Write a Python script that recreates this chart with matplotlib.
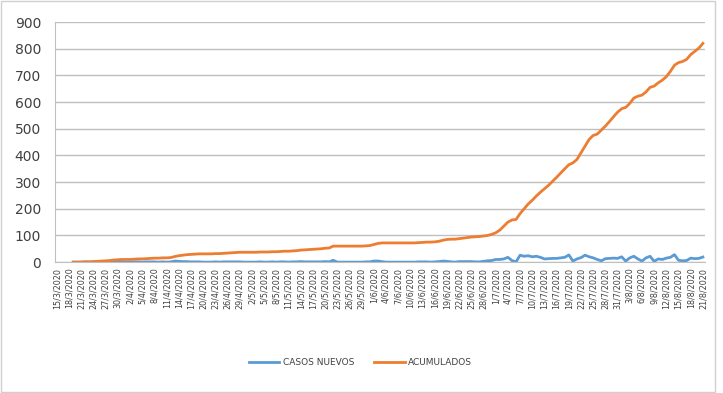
import pandas as pd
import matplotlib.pyplot as plt
from matplotlib.patches import Rectangle

# daily categories 15/3/2020 .. 21/8/2020, series start on 19/3
dates = pd.date_range("2020-03-15", "2020-08-21", freq="D")
start_offset = 4

acumulados = [
    0, 0, 0, 1, 1, 2, 3, 4, 5, 6, 8, 9, 10, 10, 10, 11, 12, 12, 13, 14,
    15, 15, 16, 16, 17, 21, 24, 26, 28, 29, 30, 31, 31, 31, 31, 32, 32, 33, 34, 35,
    36, 37, 37, 37, 37, 37, 38, 38, 38, 39, 39, 40, 41, 41, 42, 43, 45, 46, 47, 48,
    49, 50, 52, 53, 60, 60, 60, 60, 60, 60, 60, 60, 61, 62, 66, 70, 72, 72, 72, 72,
    72, 72, 72, 72, 72, 73, 74, 75, 75, 76, 78, 82, 85, 86, 86, 88, 90, 92, 94, 95,
    96, 98, 100, 104, 110, 120, 135, 150, 158, 160, 182, 200, 218, 232, 248, 262, 275, 288, 303, 318,
    334, 350, 365, 372, 385, 410, 435, 460, 475, 480, 495, 510, 527, 545, 562, 575, 580, 595, 615, 622,
    626, 638, 655, 660, 672, 682, 695, 715, 738, 748, 752, 760, 778, 790, 802, 820,
]

casos_nuevos = [
    0, 0, 0, 1, 0, 1, 1, 1, 1, 1, 2, 1, 1, 0, 0, 1, 1, 0, 1, 1,
    1, 0, 1, 0, 1, 4, 3, 2, 2, 1, 1, 1, 0, 0, 0, 1, 0, 1, 1, 1,
    1, 1, 0, 0, 0, 0, 1, 0, 0, 1, 0, 1, 1, 0, 1, 1, 2, 1, 1, 1,
    1, 1, 2, 1, 7, 0, 0, 0, 0, 0, 0, 0, 1, 1, 4, 4, 2, 0, 0, 0,
    0, 0, 0, 0, 0, 1, 1, 1, 0, 1, 2, 4, 3, 1, 0, 2, 2, 2, 2, 1,
    1, 3, 5, 6, 10, 10, 12, 18, 6, 1, 26, 22, 24, 20, 22, 18, 12, 13, 14, 14,
    16, 18, 27, 4, 12, 17, 26, 20, 16, 10, 5, 13, 14, 15, 14, 20, 4, 16, 22, 12,
    4, 16, 22, 3, 12, 10, 15, 18, 28, 7, 5, 6, 15, 13, 14, 19,
]

labels = [f"{d.day}/{d.month}/{d.year}" for d in dates]
x = list(range(start_offset, start_offset + len(acumulados)))

fig = plt.figure(figsize=(7.23, 3.93), dpi=100)
ax = fig.add_axes([0.076, 0.333, 0.899, 0.611])

ax.plot(x, casos_nuevos, color="#5B9BD5", lw=2.0, label="CASOS NUEVOS")
ax.plot(x, acumulados, color="#ED7D31", lw=2.0, label="ACUMULADOS")

ax.set_xlim(-0.5, len(dates) - 0.5)
ax.set_ylim(0, 900)
ax.set_yticks(range(0, 901, 100))
ax.yaxis.grid(True, color="#bfbfbf", lw=1)
ax.set_axisbelow(True)
ax.tick_params(axis="y", length=0, labelsize=10, pad=10, colors="#404040")

ticks = list(range(0, len(dates), 3))
ax.set_xticks(ticks)
ax.set_xticklabels([labels[i] for i in ticks], rotation=90, fontsize=5.8, color="#404040")
ax.tick_params(axis="x", length=0, pad=4)

for s in ["top", "right"]:
    ax.spines[s].set_visible(False)
ax.spines["left"].set_color("#bfbfbf")
ax.spines["bottom"].set_color("#bfbfbf")

ax.legend(loc="center", bbox_to_anchor=(0.47, -0.42), ncol=2, frameon=False,
          fontsize=6.5, handlelength=3.4, handletextpad=0.4, columnspacing=2.2,
          labelcolor="#404040")

# outer chart border
fig.patches.append(Rectangle((0.002, 0.003), 0.987, 0.994, transform=fig.transFigure,
                             fill=False, edgecolor="#d0d0d0", lw=1))

fig.savefig("out.png", dpi=100)
